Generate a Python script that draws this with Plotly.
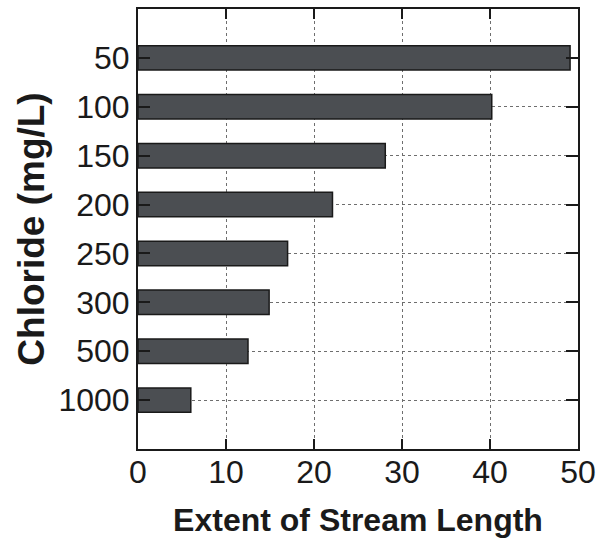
import plotly.graph_objects as go

# Chloride thresholds (mg/L) and the extent of stream length exceeding each
chloride = ["50", "100", "150", "200", "250", "300", "500", "1000"]
extent = [49.1, 40.2, 28.1, 22.1, 17.0, 14.9, 12.5, 6.0]
x_ticks = [0, 10, 20, 30, 40, 50]

FONT = "Liberation Sans, Arial, sans-serif"

fig = go.Figure(
    go.Bar(
        x=extent,
        y=chloride,
        orientation="h",
        width=0.5,
        marker=dict(color="#4b4e52", line=dict(color="#1a1a1a", width=1.5)),
    )
)

fig.update_layout(
    width=596,
    height=538,
    margin=dict(l=138, r=18, t=9, b=89),
    paper_bgcolor="white",
    plot_bgcolor="white",
    showlegend=False,
    font=dict(family=FONT, color="#1a1a1a"),
)

fig.update_xaxes(
    range=[0, 50],
    tickvals=x_ticks,
    ticks="inside",
    ticklen=10,
    tickwidth=1.5,
    tickcolor="#1a1a1a",
    showline=True,
    linecolor="#1a1a1a",
    linewidth=2,
    mirror="ticks",
    showgrid=True,
    gridcolor="#6e6e6e",
    griddash="dot",
    gridwidth=1,
    zeroline=False,
    automargin=False,
    tickfont=dict(size=32, family=FONT),
    ticklabelstandoff=-6,
    title=dict(text="<b>Extent of Stream Length</b>", font=dict(size=32, family=FONT), standoff=33),
)

fig.update_yaxes(
    type="category",
    categoryorder="array",
    categoryarray=chloride,
    range=[8, -1],
    ticks="inside",
    ticklen=12,
    tickwidth=1.5,
    tickcolor="#1a1a1a",
    showline=True,
    linecolor="#1a1a1a",
    linewidth=2,
    mirror="ticks",
    showgrid=True,
    gridcolor="#6e6e6e",
    griddash="dot",
    gridwidth=1,
    zeroline=False,
    automargin=False,
    tickfont=dict(size=32, family=FONT),
    title=dict(text="<b>Chloride (mg/L)</b>", font=dict(size=37, family=FONT), standoff=2),
)

fig.write_html("out.html")
